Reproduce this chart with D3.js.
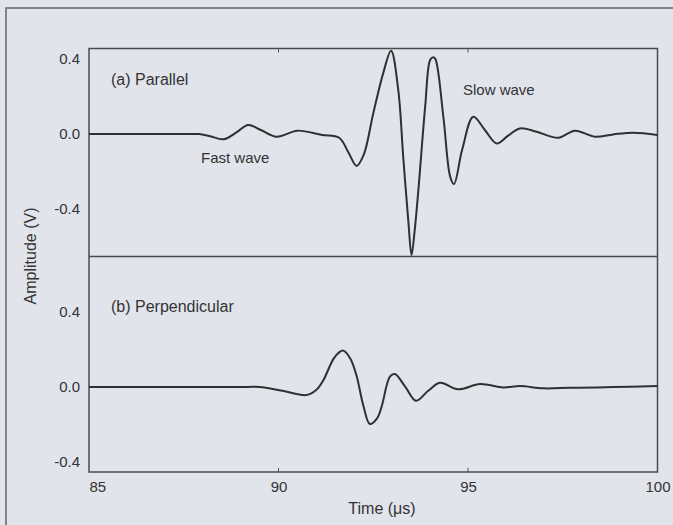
<!DOCTYPE html>
<html lang="en">
<head>
    <meta charset="UTF-8">
    <title>Amplitude vs time</title>
    <style>
        body { margin: 0; background: #e2e4ec; }
        text { font-family: "Liberation Sans", Arial, sans-serif; fill: #333; }
    </style>
</head>
<body>
<div id="chart"></div>
<script src="https://cdn.jsdelivr.net/npm/d3@7/dist/d3.min.js"></script>
<script>
    const width = 673,
        height = 525;

    // panel (a) parallel
    const parallelTime = [85, 86, 87, 87.6, 87.9, 88.2, 88.55, 88.9, 89.2, 89.55, 89.95, 90.5, 91.15, 91.6, 91.85, 92.06,
        92.25, 92.5, 92.77, 92.97, 93.16, 93.29, 93.43, 93.51, 93.6, 93.69, 93.87, 94.0, 94.08, 94.14, 94.35, 94.53,
        94.63, 94.85, 95.14, 95.45, 95.76, 96.05, 96.37, 96.81, 97.38, 97.82, 98.35, 98.83, 99.36, 100];
    const parallelAmp = [0, 0, 0, 0, 0, -0.012, -0.028, 0.01, 0.048, 0.02, -0.014, 0.018, -0.005, -0.02, -0.10, -0.17,
        -0.11, 0.11, 0.33, 0.444, 0.235, -0.12, -0.476, -0.645, -0.5, -0.3, 0.146, 0.395, 0.41, 0.40, 0.092, -0.228,
        -0.267, -0.08, 0.092, 0.02, -0.05, -0.01, 0.03, 0.012, -0.02, 0.018, -0.014, -0.002, 0.007, -0.005];

    // panel (b) perpendicular
    const perpTime = [85, 86, 87, 88, 89, 89.5, 90.1, 90.74, 91.0, 91.18, 91.45, 91.6, 91.71, 91.9, 92.06, 92.24, 92.41,
        92.6, 92.72, 92.94, 93.07, 93.35, 93.63, 93.95, 94.26, 94.74, 95.32, 95.93, 96.37, 96.99, 97.69, 98.4, 99.27, 100];
    const perpAmp = [0, 0, 0, 0, 0, 0, -0.02, -0.043, -0.015, 0.035, 0.15, 0.185, 0.194, 0.15, 0.06, -0.1, -0.197,
        -0.167, -0.105, 0.055, 0.069, 0.0, -0.073, -0.02, 0.023, -0.012, 0.016, -0.002, 0.005, -0.007, -0.004, -0.002,
        0.002, 0.005];

    const xTicks = [85, 90, 95, 100];
    const yTicks = [-0.4, 0.0, 0.4];
    const panelLabels = ["(a) Parallel", "(b) Perpendicular"];
    const waveLabels = ["Fast wave", "Slow wave"];

    const plot = {"left": 89, "right": 657.5, "top": 48.5, "mid": 256.5, "bottom": 472};

    let xScale = d3.scaleLinear().domain([85, 100]).range([plot.left, plot.right]);

    let panels = [
        {
            "time": parallelTime, "amp": parallelAmp, "label": panelLabels[0],
            "yScale": d3.scaleLinear().domain([-0.653, 0.456]).range([plot.mid, plot.top])
        },
        {
            "time": perpTime, "amp": perpAmp, "label": panelLabels[1],
            "yScale": d3.scaleLinear().domain([-0.453, 0.696]).range([plot.bottom, plot.mid])
        }
    ];

    let svg = d3.select("#chart")
        .append("svg")
        .attr("width", width)
        .attr("height", height)
        .style("display", "block")
        .style("background-color", "#e2e4ec");

    // scanned page border
    svg.append("rect")
        .attr("x", 6).attr("y", 8)
        .attr("width", 720).attr("height", 600)
        .style("fill", "none")
        .style("stroke", "#666")
        .style("stroke-width", 1.5);

    let g = svg.append("g").classed("group", true);

    let axis = {
        "draw": function() {
            this.xAxis();
            panels.forEach(p => this.yAxis(p.yScale));
            this.titles();
        },
        "xAxis": function() {
            let xAxis = d3.axisBottom(xScale)
                .tickValues(xTicks)
                .tickSize(0)
                .tickPadding(9)
                .tickFormat(d3.format("d"));

            let ax = g.append("g")
                .classed("xaxis", true)
                .attr("transform", `translate(0,${plot.bottom})`)
                .call(xAxis);
            ax.select(".domain").remove();
            ax.selectAll("text")
                .style("font-size", "15px")
                .attr("text-anchor", (d, i) => i === 0 ? "start" : "middle");

            // little inward ticks on bottom and top edges
            [plot.bottom, plot.top].forEach((y, k) => {
                g.append("g")
                    .selectAll("line")
                    .data(xTicks.slice(1, -1))
                    .join("line")
                    .attr("x1", d => xScale(d)).attr("x2", d => xScale(d))
                    .attr("y1", y).attr("y2", k === 0 ? y - 4 : y + 4)
                    .style("stroke", "#555")
                    .style("stroke-width", 1);
            });
        },
        "yAxis": function(yScale) {
            let yAxis = d3.axisLeft(yScale)
                .tickValues(yTicks)
                .tickSize(0)
                .tickPadding(9)
                .tickFormat(d => d.toFixed(1));

            let ax = g.append("g")
                .classed("yaxis", true)
                .attr("transform", `translate(${plot.left},0)`)
                .call(yAxis);
            ax.select(".domain").remove();
            ax.selectAll("text").style("font-size", "15px");
        },
        "titles": function() {
            g.append("text")
                .attr("x", 382).attr("y", 514)
                .attr("text-anchor", "middle")
                .style("font-size", "16px")
                .text("Time (\u03bcs)");

            g.append("text")
                .attr("transform", `translate(36,256) rotate(-90)`)
                .attr("text-anchor", "middle")
                .style("font-size", "16px")
                .text("Amplitude (V)");
        }
    };

    let chart = {
        "draw": function() {
            this.frame();
            this.traces();
            this.labels();
        },
        "frame": function() {
            g.append("rect")
                .attr("x", plot.left).attr("y", plot.top)
                .attr("width", plot.right - plot.left).attr("height", plot.bottom - plot.top)
                .style("fill", "none")
                .style("stroke", "#4a4a4a")
                .style("stroke-width", 1.5);
            g.append("line")
                .attr("x1", plot.left).attr("x2", plot.right)
                .attr("y1", plot.mid).attr("y2", plot.mid)
                .style("stroke", "#4a4a4a")
                .style("stroke-width", 1.5);
        },
        "traces": function() {
            panels.forEach(p => {
                let pts = p.time.map((t, i) => ({"t": t, "v": p.amp[i]}));
                let line = d3.line()
                    .x(d => xScale(d.t))
                    .y(d => p.yScale(d.v))
                    .curve(d3.curveCatmullRom.alpha(0.5));
                g.append("path")
                    .datum(pts)
                    .attr("d", line)
                    .style("fill", "none")
                    .style("stroke", "#303030")
                    .style("stroke-width", 2)
                    .style("stroke-linejoin", "round");
            });
        },
        "labels": function() {
            g.append("text").attr("x", 111).attr("y", 85)
                .style("font-size", "16px").text(panels[0].label);
            g.append("text").attr("x", 111).attr("y", 312)
                .style("font-size", "16px").text(panels[1].label);
            g.append("text").attr("x", 201).attr("y", 163)
                .style("font-size", "15px").text(waveLabels[0]);
            g.append("text").attr("x", 463).attr("y", 95)
                .style("font-size", "15px").text(waveLabels[1]);
        }
    };

    axis.draw();
    chart.draw();
</script>
</body>
</html>
